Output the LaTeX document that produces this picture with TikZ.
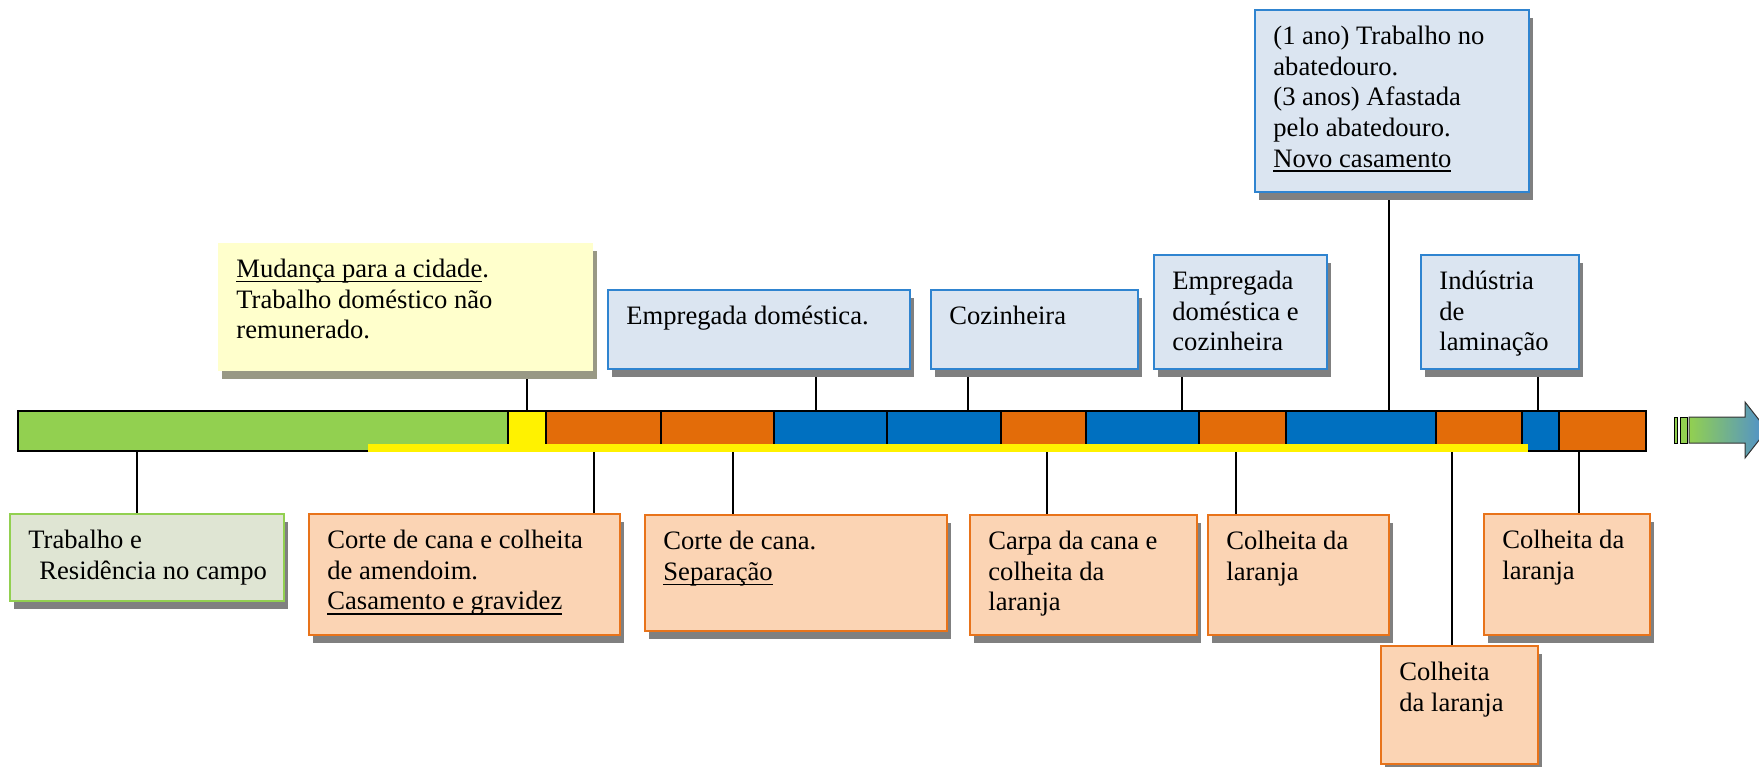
\documentclass[tikz,border=0pt]{standalone}
\usepackage{fontspec}
\setmainfont{Liberation Serif}
\usetikzlibrary{shadows,backgrounds}

\definecolor{verde}{HTML}{92D050}
\definecolor{laranja}{HTML}{E36C09}
\definecolor{azul}{HTML}{0070C0}
\definecolor{bordalaranja}{HTML}{E8731A}
\definecolor{fundolaranja}{HTML}{FBD4B4}
\definecolor{bordaazul}{HTML}{2F84D0}
\definecolor{fundoazul}{HTML}{DBE5F1}
\definecolor{fundoverde}{HTML}{DFE5D3}
\definecolor{fundoamarelo}{HTML}{FFFFCC}
\definecolor{sombraamarela}{HTML}{999985}
\definecolor{azulseta}{HTML}{4F8FD0}

\newcommand{\sublinhado}[1]{\setbox0\hbox{#1}\rlap{\rule[-2.4pt]{\wd0}{0.7pt}}#1}

\tikzset{
  caixa/.style={anchor=north west, inner sep=0pt, line width=1pt},
  sombra/.style={drop shadow={shadow xshift=2.2pt, shadow yshift=-4pt, fill=#1, opacity=1}},
  sombra/.default=black!50,
  caixalaranja/.style={caixa, sombra, draw=bordalaranja, fill=fundolaranja},
  caixaazul/.style={caixa, sombra, draw=bordaazul, fill=fundoazul},
  texto/.style={anchor=north west, inner sep=0pt, align=left,
    font=\fontsize{13.3pt}{15.3pt}\selectfont, xshift=9.5pt, yshift=-8.4pt},
  ligacao/.style={line width=0.75pt},
}

\begin{document}
\begin{tikzpicture}[x=0.5pt, y=-0.5pt]
\useasboundingbox (0,0) rectangle (1759,766);

% linha do tempo
\foreach \a/\b/\cor in {18/508/verde, 508/546/yellow, 546/661/laranja, 661/774/laranja,
    774/887/azul, 887/1001/azul, 1001/1086/laranja, 1086/1199/azul, 1199/1286/laranja,
    1286/1436/azul, 1436/1522/laranja, 1522/1559/azul, 1559/1646/laranja}
  \draw[fill=\cor, line width=0.6pt] (\a,411) rectangle (\b,451);
\draw[line width=1.3pt] (18,411) rectangle (1646,451);
\fill[yellow] (368,444) rectangle (1528,452);

% seta
\draw[fill=verde, line width=0.5pt] (1674,417) rectangle (1677,443);
\draw[fill=verde, line width=0.5pt] (1680,417) rectangle (1687,443);
\shadedraw[left color=verde, right color=azulseta, draw=black!80, line width=0.5pt]
  (1689,417) -- (1745,417) -- (1745,402) -- (1767,430) -- (1745,458) -- (1745,443) -- (1689,443) -- cycle;

% pontos na linha
\coordinate (tcidade) at (527,411);
\coordinate (tdomestica) at (816,411);
\coordinate (tcozinheira) at (968,411);
\coordinate (tdomcoz) at (1182,411);
\coordinate (tabatedouro) at (1389,411);
\coordinate (tlaminacao) at (1538,411);
\coordinate (bcampo) at (137,451);
\coordinate (bamendoim) at (594,451);
\coordinate (bseparacao) at (733,451);
\coordinate (bcarpa) at (1047,451);
\coordinate (blaranjaA) at (1236,451);
\coordinate (blaranjaB) at (1452,451);
\coordinate (blaranjaC) at (1579,451);

% caixas de cima
\node[caixa, sombra=sombraamarela, fill=fundoamarelo, minimum width=187.5pt, minimum height=64pt] (cidade) at (217,242) {};
\node[texto] at (cidade.north west) {\sublinhado{Mudança para a cidade}.\\Trabalho doméstico não\\remunerado.};
\node[caixaazul, minimum width=151pt, minimum height=39.5pt] (domestica) at (607,289) {};
\node[texto] at (domestica.north west) {Empregada doméstica.};
\node[caixaazul, minimum width=103.5pt, minimum height=39.5pt] (cozinheira) at (930,289) {};
\node[texto] at (cozinheira.north west) {Cozinheira};
\node[caixaazul, minimum width=86.5pt, minimum height=57pt] (domcoz) at (1153,254) {};
\node[texto] at (domcoz.north west) {Empregada\\doméstica e\\cozinheira};
\node[caixaazul, minimum width=79pt, minimum height=57pt] (laminacao) at (1420,254) {};
\node[texto] at (laminacao.north west) {Indústria\\de\\laminação};
\node[caixaazul, minimum width=137pt, minimum height=91pt] (abatedouro) at (1254,9) {};
\node[texto] at (abatedouro.north west) {(1 ano) Trabalho no\\abatedouro.\\(3 anos) Afastada\\pelo abatedouro.\\\sublinhado{Novo casamento}};

% caixas de baixo
\node[caixa, sombra, draw=verde, fill=fundoverde, minimum width=137pt, minimum height=43.5pt] (campo) at (9,513) {};
\node[texto] at (campo.north west) {Trabalho e\\\hspace*{5.5pt}Residência no campo};
\node[caixalaranja, minimum width=155.5pt, minimum height=60.5pt] (amendoim) at (308,513) {};
\node[texto] at (amendoim.north west) {Corte de cana e colheita\\de amendoim.\\\sublinhado{Casamento e gravidez}};
\node[caixalaranja, minimum width=151pt, minimum height=58pt] (separacao) at (644,514) {};
\node[texto] at (separacao.north west) {Corte de cana.\\\sublinhado{Separação}};
\node[caixalaranja, minimum width=113.5pt, minimum height=60pt] (carpa) at (969,514) {};
\node[texto] at (carpa.north west) {Carpa da cana e\\colheita da\\laranja};
\node[caixalaranja, minimum width=90.5pt, minimum height=60pt] (laranjaA) at (1207,514) {};
\node[texto] at (laranjaA.north west) {Colheita da\\laranja};
\node[caixalaranja, minimum width=78.5pt, minimum height=59pt] (laranjaB) at (1380,645) {};
\node[texto] at (laranjaB.north west) {Colheita\\da laranja};
\node[caixalaranja, minimum width=83pt, minimum height=60.5pt] (laranjaC) at (1483,513) {};
\node[texto] at (laranjaC.north west) {Colheita da\\laranja};

% ligacoes
\begin{scope}[on background layer]
\draw[ligacao] (tcidade) -- (tcidade |- cidade.south);
\draw[ligacao] (tdomestica) -- (tdomestica |- domestica.south);
\draw[ligacao] (tcozinheira) -- (tcozinheira |- cozinheira.south);
\draw[ligacao] (tdomcoz) -- (tdomcoz |- domcoz.south);
\draw[ligacao] (tabatedouro) -- (tabatedouro |- abatedouro.south);
\draw[ligacao] (tlaminacao) -- (tlaminacao |- laminacao.south);
\draw[ligacao] (bcampo) -- (bcampo |- campo.north);
\draw[ligacao] (bamendoim) -- (bamendoim |- amendoim.north);
\draw[ligacao] (bseparacao) -- (bseparacao |- separacao.north);
\draw[ligacao] (bcarpa) -- (bcarpa |- carpa.north);
\draw[ligacao] (blaranjaA) -- (blaranjaA |- laranjaA.north);
\draw[ligacao] (blaranjaB) -- (blaranjaB |- laranjaB.north);
\draw[ligacao] (blaranjaC) -- (blaranjaC |- laranjaC.north);
\end{scope}
\end{tikzpicture}
\end{document}
